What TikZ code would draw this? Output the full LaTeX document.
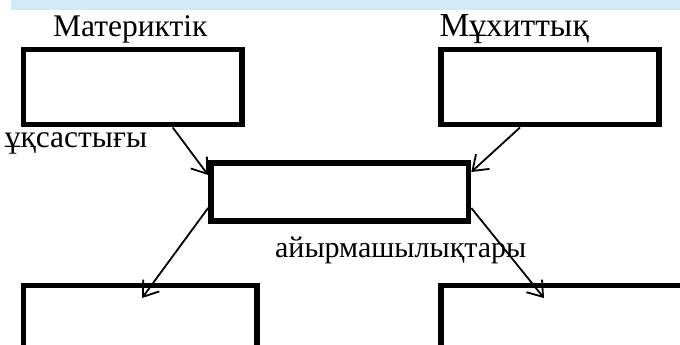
\documentclass[tikz,border=0pt]{standalone}
\usepackage{fontspec}
\setmainfont{Liberation Serif}
\usetikzlibrary{positioning}
\usetikzlibrary{arrows.meta}
\definecolor{bandblue}{RGB}{208,234,247}

\tikzset{
  box/.style={draw, line width=5.5pt, rectangle, minimum height=75.2pt},
  lbl/.style={inner sep=0pt, font=\fontsize{#1}{#1}\selectfont},
  lbl/.default=30,
  arr/.style={->, line width=1.8pt},
  >={Straight Barb[length=14pt,width=20pt]}
}

\begin{document}
\begin{tikzpicture}[x=1pt,y=1pt]
        \useasboundingbox (0,0) rectangle (680,-345);
        \clip (0,0) rectangle (680,-345);
        \fill[bandblue] (11,0) rectangle (680,-10);

        % nodes %
        \node[box, minimum width=218.7pt] (matbox) at (132.7,-87.1) {};
        \node[box, minimum width=218pt, right=193.5pt of matbox] (muxbox) {};
        \node[box, minimum width=257.7pt, minimum height=58pt] (midbox) at (339.7,-192) {};
        \node[box, minimum width=233.4pt, below=155.1pt of matbox.south west, anchor=north west] (leftbox) {};
        \node[box, minimum width=259pt, below=155.1pt of muxbox.south west, anchor=north west] (rightbox) {};

        \node[lbl=31.5, above=10.5pt of matbox, anchor=base, xshift=-2.5pt] (mat) {Материктік};
        \node[lbl=33.5, above=10.5pt of muxbox.north west, anchor=base west, xshift=1pt] (mux) {Мұхиттық};
        \node[lbl=31.5, below=20.5pt of matbox.south west, anchor=base west, xshift=-16pt] (sim) {ұқсастығы};
        \node[lbl=30, below=34pt of midbox, anchor=base, xshift=61pt] (dif) {айырмашылықтары};

        % edges %
        \draw[arr] ([xshift=40pt]matbox.south) -- ([yshift=17pt]midbox.west);
        \draw[arr] ([xshift=-30pt]muxbox.south) -- ([yshift=20pt]midbox.east);
        \draw[arr] ([yshift=-16pt]midbox.west) -- ([xshift=2pt,yshift=-15.5pt]leftbox.north);
        \draw[arr] ([yshift=-16pt]midbox.east) -- ([xshift=105.7pt,yshift=-15.5pt]rightbox.north west);
      \end{tikzpicture}
\end{document}
